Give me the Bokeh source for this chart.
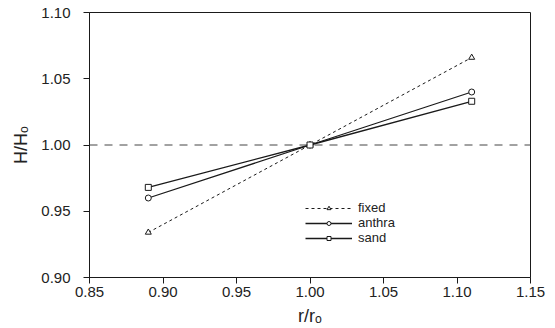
from bokeh.plotting import figure
from bokeh.models import (FixedTicker, NumeralTickFormatter, Legend, LegendItem, Span)
from bokeh.embed import file_html
from bokeh.resources import INLINE

# data
r_ratio = [0.89, 1.00, 1.11]
fixed = [0.934, 1.000, 1.066]
anthra = [0.960, 1.000, 1.040]
sand = [0.968, 1.000, 1.033]
series_names = ["fixed", "anthra", "sand"]
x_ticks = [0.85, 0.90, 0.95, 1.00, 1.05, 1.10, 1.15]
y_ticks = [0.90, 0.95, 1.00, 1.05, 1.10]

FONT = "Liberation Sans"
INK = "#1a1a1a"

p = figure(width=555, height=328, output_backend="svg", toolbar_location=None,
           x_range=(0.85, 1.15), y_range=(0.90, 1.10),
           min_border_left=89, min_border_right=25, min_border_top=12, min_border_bottom=49)
p.xgrid.visible = False
p.ygrid.visible = False
p.outline_line_color = INK
p.outline_line_width = 1
p.background_fill_color = "white"
p.border_fill_color = "white"

for ax in (p.xaxis[0], p.yaxis[0]):
    ax.axis_line_color = INK
    ax.major_tick_line_color = INK
    ax.major_tick_out = 6
    ax.major_tick_in = 0
    ax.minor_tick_line_color = None
    ax.major_label_text_font = FONT
    ax.major_label_text_font_size = "15px"
    ax.major_label_text_color = "#222"
    ax.axis_label_text_font = FONT
    ax.axis_label_text_font_size = "18px"
    ax.axis_label_text_font_style = "normal"
    ax.axis_label_text_color = "#222"
    ax.formatter = NumeralTickFormatter(format="0.00")

p.xaxis.ticker = FixedTicker(ticks=x_ticks)
p.yaxis.ticker = FixedTicker(ticks=y_ticks)
p.xaxis.axis_label = "r/r\u2092"
p.yaxis.axis_label = "H/H\u2092"
p.xaxis.major_label_standoff = 3
p.xaxis.axis_label_standoff = 6
p.yaxis.major_label_standoff = 13
p.yaxis.axis_label_standoff = 7

p.add_layout(Span(location=1.0, dimension="width", line_color="#444",
                  line_dash="8 7", line_width=1))

l1 = p.line(r_ratio, fixed, line_color=INK, line_width=1, line_dash="3 3")
s1 = p.scatter(r_ratio, fixed, marker="triangle", size=6, fill_color="white",
               line_color=INK, line_width=1)
l2 = p.line(r_ratio, anthra, line_color=INK, line_width=1.3)
s2 = p.scatter(r_ratio, anthra, marker="circle", size=6, fill_color="white",
               line_color=INK, line_width=1)
l3 = p.line(r_ratio, sand, line_color=INK, line_width=1.3)
s3 = p.scatter(r_ratio, sand, marker="square", size=6, fill_color="white",
               line_color=INK, line_width=1)

# one legend per row so the rows can sit tightly as in the reference
rows = [(series_names[0], [l1, s1], 62),
        (series_names[1], [l2, s2], 47),
        (series_names[2], [l3, s3], 32)]
for name, rends, ypos in rows:
    lg = Legend(items=[LegendItem(label=name, renderers=rends)],
                location=(216, ypos), orientation="vertical",
                glyph_width=47, glyph_height=10, spacing=0, padding=0, margin=0,
                label_standoff=6, label_text_font=FONT, label_text_font_size="13px",
                label_text_color="#222", label_height=10,
                border_line_color=None, background_fill_alpha=0)
    p.add_layout(lg)

open("out.html", "w").write(file_html(p, INLINE))
